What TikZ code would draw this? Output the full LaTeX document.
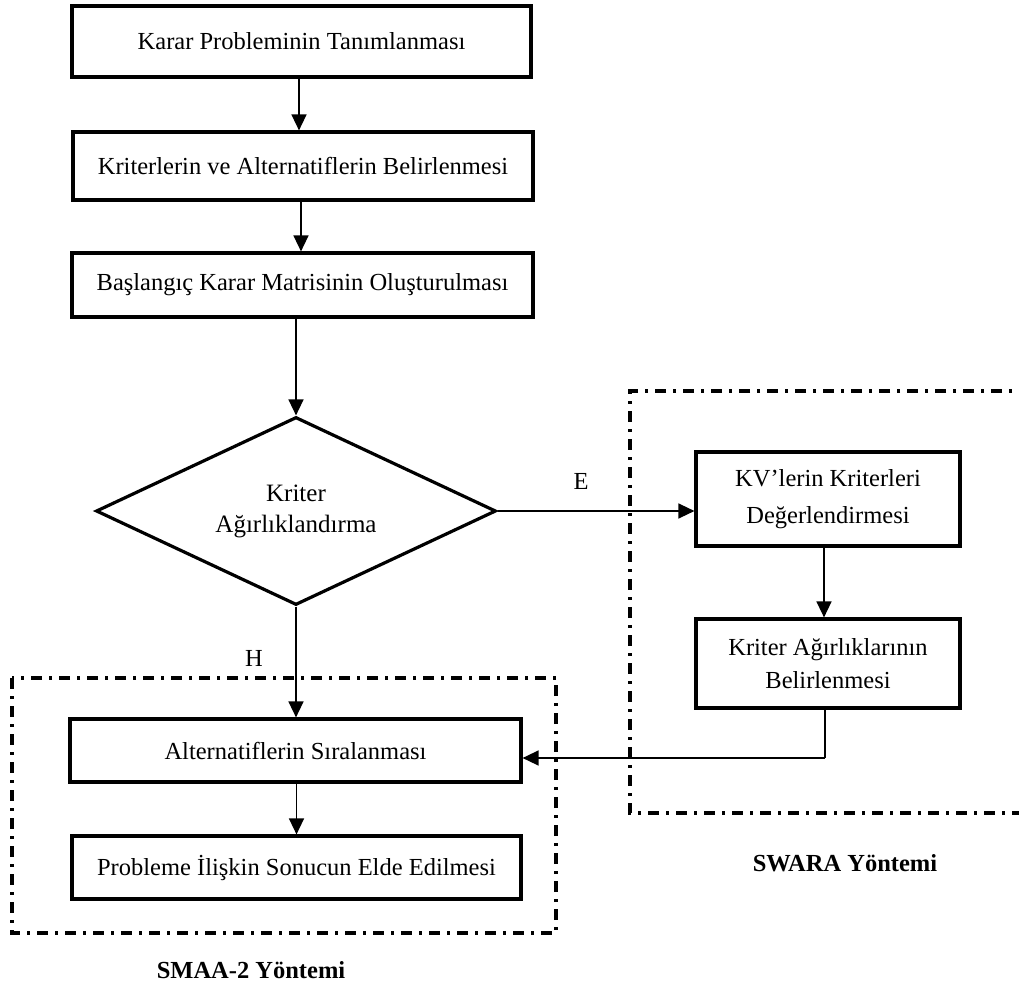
\documentclass[tikz,border=0pt]{standalone}
\usepackage{fontspec}
\setmainfont{Liberation Serif}
\usetikzlibrary{shapes.geometric,arrows.meta}
\begin{document}
\begin{tikzpicture}[x=1pt,y=-1pt,
  every node/.style={font=\fontsize{24.5}{34}\selectfont},
  stepbox/.style={draw,line width=3.2pt,rectangle,inner sep=0pt,align=center},
  decision/.style={draw,line width=3.2pt,diamond,inner sep=0pt,align=center,aspect=2.128},
  arr/.style={line width=1.5pt,-{Triangle[length=16pt,width=15pt]}},
  plain/.style={line width=1.5pt},
  dd/.style={line width=3.2pt,dash pattern=on 11pt off 7pt on 3pt off 7pt},
  lbl/.style={inner sep=0pt},
  grp/.style={inner sep=0pt,font=\fontsize{24.5}{30}\selectfont\bfseries}]
\useasboundingbox (0,0) rectangle (1019,992);
% group frames
\draw[dd] (1030,391) -- (630,391) -- (630,813) -- (1030,813);
\draw[dd] (12,678) rectangle (556,933);
% nodes
\node[stepbox,minimum width=459pt,minimum height=71pt] (b1) at (301.5,41.5) {Karar Probleminin Tanımlanması};
\node[stepbox,minimum width=460pt,minimum height=68pt] (b2) at (303,166) {Kriterlerin ve Alternatiflerin Belirlenmesi};
\node[stepbox,minimum width=461pt,minimum height=64pt] (b3) at (302.5,285) {Başlangıç Karar Matrisinin Oluşturulması};
\node[decision,minimum width=400pt,minimum height=188pt,font=\fontsize{25}{31}\selectfont] (dia) at (296,511) {Kriter\\Ağırlıklandırma};
\node[stepbox,minimum width=264pt,minimum height=94pt,font=\fontsize{24.5}{37}\selectfont] (kv) at (828,499) {KV’lerin Kriterleri\\Değerlendirmesi};
\node[stepbox,minimum width=264pt,minimum height=89pt,font=\fontsize{24.5}{33}\selectfont] (ka) at (828,663.5) {Kriter Ağırlıklarının\\Belirlenmesi};
\node[stepbox,minimum width=451pt,minimum height=63pt] (alt) at (295.5,750.5) {Alternatiflerin Sıralanması};
\node[stepbox,minimum width=449pt,minimum height=63pt] (prob) at (296.5,867.5) {Probleme İlişkin Sonucun Elde Edilmesi};
% labels
\node[lbl] (le) at (581,481) {E};
\node[lbl] (lh) at (254,658) {H};
\node[grp] (lsmaa) at (251,970) {SMAA-2 Yöntemi};
\node[grp] (lswara) at (845,863) {SWARA Yöntemi};
% connector columns
\coordinate (c12) at (299,0);
\coordinate (c23) at (301,0);
\coordinate (ck) at (824,0);
\coordinate (j) at (825,758);
% connectors
\draw[arr] (b1.south -| c12) -- (b2.north -| c12);
\draw[arr] (b2.south -| c23) -- (b3.north -| c23);
\draw[arr] (b3.south -| dia.north) -- (dia.north);
\draw[arr] (dia.east) -- (dia.east -| kv.west);
\draw[arr] (kv.south -| ck) -- (ka.north -| ck);
\draw[arr] (dia.south) -- (dia.south |- alt.north);
\draw[arr] (alt.south -| prob.north) -- (prob.north);
\draw[plain] (ka.south -| j) -- (j);
\draw[arr] (j) -- (j -| alt.east);
\end{tikzpicture}
\end{document}
